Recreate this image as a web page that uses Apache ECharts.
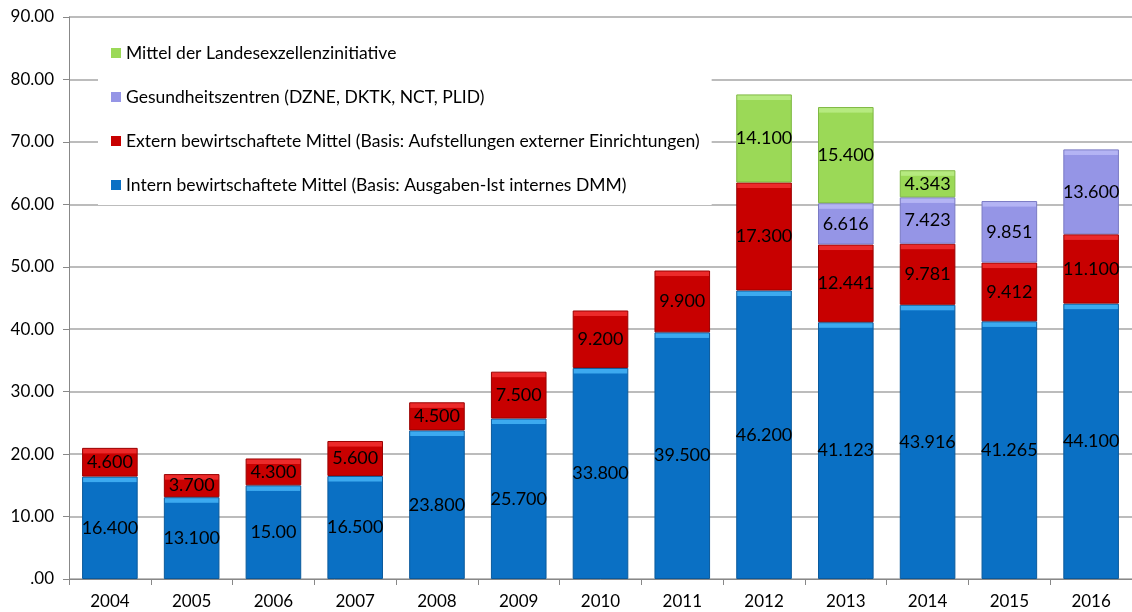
<!DOCTYPE html>
<html>
<head>
<meta charset="utf-8">
<script src="https://cdn.jsdelivr.net/npm/echarts@6/dist/echarts.min.js"></script>
<style>
html,body{margin:0;padding:0;background:#fff;}
#chart{width:1132px;height:612px;}
</style>
</head>
<body>
<div id="chart"></div>
<script>
const categories = ['2004','2005','2006','2007','2008','2009','2010','2011','2012','2013','2014','2015','2016'];
const seriesNames = [
  'Intern bewirtschaftete Mittel (Basis: Ausgaben-Ist internes DMM)',
  'Extern bewirtschaftete Mittel (Basis: Aufstellungen externer Einrichtungen)',
  'Gesundheitszentren (DZNE, DKTK, NCT, PLID)',
  'Mittel der Landesexzellenzinitiative'
];
const intern = [16.4, 13.1, 15.0, 16.5, 23.8, 25.7, 33.8, 39.5, 46.2, 41.123, 43.916, 41.265, 44.1];
const internLabels = ['16.400','13.100','15.00','16.500','23.800','25.700','33.800','39.500','46.200','41.123','43.916','41.265','44.100'];
const extern = [4.6, 3.7, 4.3, 5.6, 4.5, 7.5, 9.2, 9.9, 17.3, 12.441, 9.781, 9.412, 11.1];
const externLabels = ['4.600','3.700','4.300','5.600','4.500','7.500','9.200','9.900','17.300','12.441','9.781','9.412','11.100'];
const gesund = [null, null, null, null, null, null, null, null, null, 6.616, 7.423, 9.851, 13.6];
const gesundLabels = ['','','','','','','','','','6.616','7.423','9.851','13.600'];
const landes = [null, null, null, null, null, null, null, null, 14.1, 15.4, 4.343, null, null];
const landesLabels = ['','','','','','','','','14.100','15.400','4.343','',''];
const yTickLabels = ['.00','10.00','20.00','30.00','40.00','50.00','60.00','70.00','80.00','90.00'];

const FONT = 'Lato, "Open Sans", sans-serif';
const PX_PER_UNIT = 562 / 90;

function styled(values, labels, base, light, dark) {
  return values.map((v, i) => {
    if (v == null) return { value: null };
    const h = v * PX_PER_UNIT;
    const s = Math.min(0.45, 6 / h);
    return {
      value: v,
      label: { formatter: labels[i] },
      itemStyle: {
        color: new echarts.graphic.LinearGradient(0, 0, 0, 1, [
          { offset: 0, color: light },
          { offset: s * 0.85, color: light },
          { offset: s, color: base },
          { offset: 1, color: base }
        ]),
        borderColor: dark,
        borderWidth: 1
      }
    };
  });
}

function makeSeries(name, values, labels, base, light, dark) {
  return {
    name: name,
    type: 'bar',
    stack: 'total',
    barWidth: '68%',
    data: styled(values, labels, base, light, dark),
    itemStyle: { color: base },
    label: {
      show: true,
      position: 'inside',
      color: '#000',
      fontFamily: FONT,
      fontSize: 18
    },
    emphasis: { disabled: true }
  };
}

const chart = echarts.init(document.getElementById('chart'), null, { renderer: 'canvas' });
chart.setOption({
  animation: false,
  backgroundColor: '#fff',
  grid: { left: 69, right: -5, top: 17, bottom: 33, containLabel: false },
  legend: {
    data: [seriesNames[3], seriesNames[2], seriesNames[1], seriesNames[0]],
    orient: 'vertical',
    left: 98,
    top: 33,
    padding: [10, 12, 10, 13],
    backgroundColor: '#fff',
    itemWidth: 10,
    itemHeight: 10,
    itemGap: 24,
    icon: 'rect',
    textStyle: { fontFamily: FONT, fontSize: 17.5, color: '#000', lineHeight: 20, padding: [0, 0, 0, 0] }
  },
  xAxis: {
    type: 'category',
    data: categories,
    axisLine: { lineStyle: { color: '#888', width: 1 } },
    axisTick: { show: true, length: 6, lineStyle: { color: '#888' } },
    axisLabel: { fontFamily: FONT, fontSize: 17, color: '#000', margin: 14 }
  },
  yAxis: {
    type: 'value',
    min: 0,
    max: 90,
    interval: 10,
    axisLine: { show: true, lineStyle: { color: '#888', width: 1 } },
    axisTick: { show: true, inside: false, length: 6, lineStyle: { color: '#888' } },
    axisLabel: {
      fontFamily: FONT, fontSize: 17, color: '#000', margin: 15,
      formatter: (v) => yTickLabels[Math.round(v / 10)]
    },
    splitLine: { show: true, lineStyle: { color: '#a6a6a6', width: 1.5 } }
  },
  series: [
    makeSeries(seriesNames[0], intern, internLabels, '#0a70c4', '#3caaf0', '#0a5a9c'),
    makeSeries(seriesNames[1], extern, externLabels, '#c80000', '#ec2a2a', '#9a0000'),
    makeSeries(seriesNames[2], gesund, gesundLabels, '#9595e6', '#b4b4f4', '#7a7ac4'),
    makeSeries(seriesNames[3], landes, landesLabels, '#9bd957', '#b6ea80', '#7fb843')
  ]
});
</script>
</body>
</html>
